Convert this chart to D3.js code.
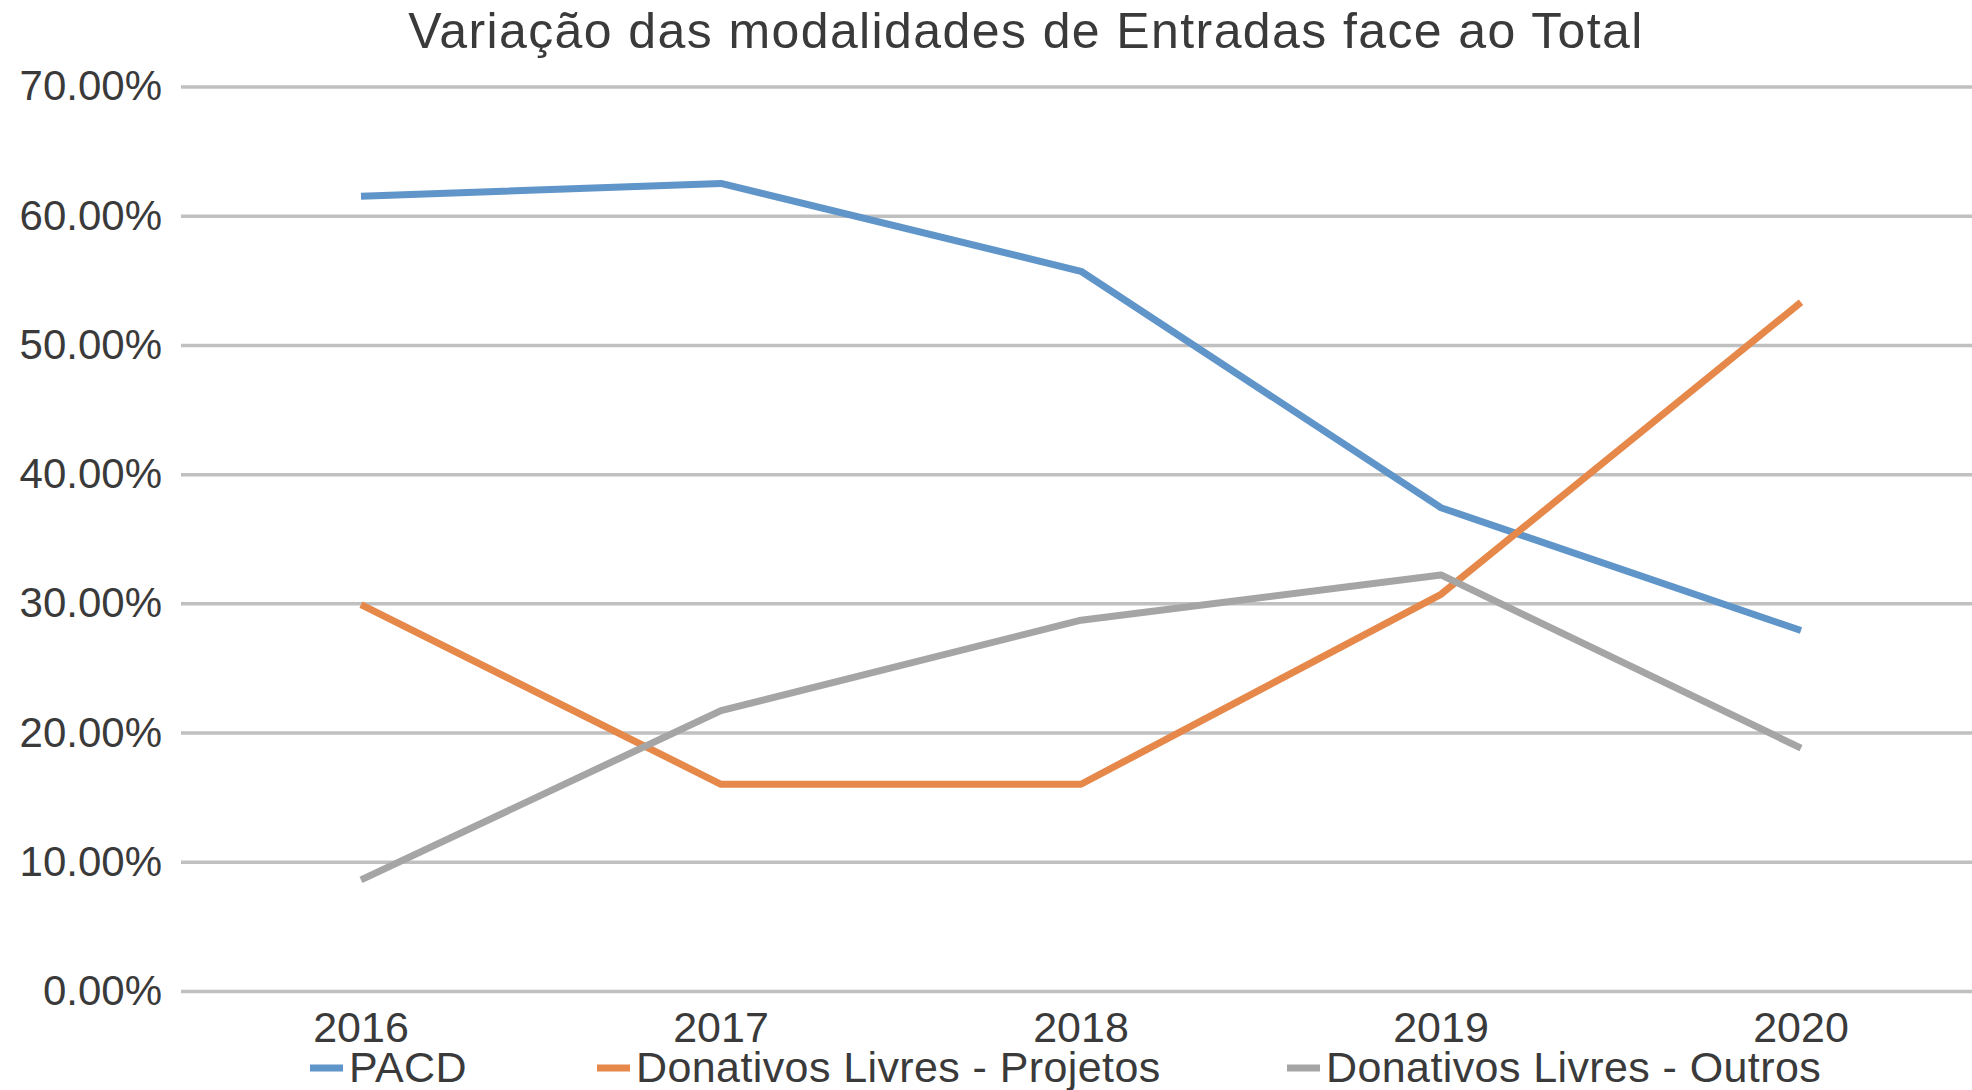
<!DOCTYPE html>
<html>
<head>
<meta charset="utf-8">
<script src="https://cdn.jsdelivr.net/npm/d3@7"></script>
<style>
    body { margin: 0; background: #fff; }
    text { font-family: "Liberation Sans", Arial, sans-serif; fill: #3a3a3a; }
</style>
</head>
<body>
<div id="chart"></div>
<script>
// data (percent of total)
const years = ["2016", "2017", "2018", "2019", "2020"];
const pacd = [61.5, 62.5, 55.7, 37.4, 27.9];
const livresProjetos = [29.9, 16.0, 16.0, 30.7, 53.3];
const livresOutros = [8.6, 21.7, 28.7, 32.2, 18.8];
const seriesNames = ["PACD", "Donativos Livres - Projetos", "Donativos Livres - Outros"];
const yTicks = [0, 10, 20, 30, 40, 50, 60, 70];
const title = "Variação das modalidades de Entradas face ao Total";

const colors = ["#5f95c8", "#e5884a", "#a5a5a5"];

const W = 1972, H = 1090;
// plot area (the right edge runs a bit past the picture, like the source)
const plot = { left: 181, right: 1981, top: 86.5, bottom: 991 };

let svg = d3.select("#chart")
    .append("svg")
    .attr("width", W)
    .attr("height", H);

// scales
let x = d3.scaleBand()
    .domain(years)
    .range([plot.left, plot.right])
    .padding(0);

let y = d3.scaleLinear()
    .domain([0, 70])
    .range([plot.bottom, plot.top]);

// gridlines
svg.append("g")
    .attr("transform", "translate(" + plot.left + ",0)")
    .call(d3.axisLeft(y).tickValues(yTicks).tickSize(-(plot.right - plot.left)).tickFormat(""))
    .call(g => g.select(".domain").remove())
    .call(g => g.selectAll("line").attr("stroke", "#c0c0c0").attr("stroke-width", 3.5));

// Y axis labels
svg.append("g")
    .attr("transform", "translate(" + plot.left + ",0)")
    .call(d3.axisLeft(y).tickValues(yTicks).tickSize(0).tickPadding(19)
        .tickFormat(d => d.toFixed(2) + "%"))
    .call(g => g.select(".domain").remove())
    .call(g => g.selectAll("text")
        .attr("font-size", 42)
        .attr("font-family", "'Liberation Sans', Arial, sans-serif")
        .attr("fill", "#3a3a3a"));

// X axis
svg.append("g")
    .attr("transform", "translate(0," + plot.bottom + ")")
    .call(d3.axisBottom(x).tickSize(0).tickPadding(20))
    .call(g => g.select(".domain").remove())
    .call(g => g.selectAll("text")
        .attr("font-size", 43)
        .attr("font-family", "'Liberation Sans', Arial, sans-serif")
        .attr("fill", "#3a3a3a"));

// the lines
const allSeries = [pacd, livresProjetos, livresOutros];
const line = d3.line()
    .x((d, i) => x(years[i]) + x.bandwidth() / 2)
    .y(d => y(d));

allSeries.forEach(function (values, k) {
    svg.append("path")
        .datum(values)
        .attr("fill", "none")
        .attr("stroke", colors[k])
        .attr("stroke-width", 7)
        .attr("stroke-linejoin", "round")
        .attr("stroke-linecap", "butt")
        .attr("d", line);
});

// title
svg.append("text")
    .attr("x", 1026)
    .attr("y", 48)
    .attr("text-anchor", "middle")
    .attr("font-size", 50)
    .attr("letter-spacing", 1.4)
    .text(title);

// legend
const legendX = [310, 597, 1287];
seriesNames.forEach(function (name, k) {
    let g = svg.append("g").attr("transform", "translate(" + legendX[k] + ",1068)");
    g.append("line")
        .attr("x1", 0).attr("x2", 33)
        .attr("y1", 0).attr("y2", 0)
        .attr("stroke", colors[k])
        .attr("stroke-width", 7);
    g.append("text")
        .attr("x", 39)
        .attr("y", 14)
        .attr("font-size", 43)
        .attr("letter-spacing", 0.4)
        .text(name);
});
</script>
</body>
</html>
